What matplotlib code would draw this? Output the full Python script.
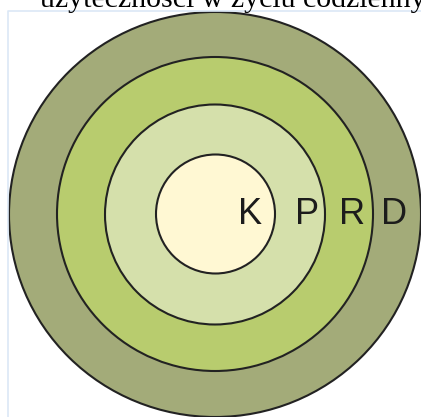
import matplotlib.pyplot as plt
from matplotlib.patches import Ellipse

# Rings from the inside out
labels = ["K", "P", "R", "D"]
radius_x = [59.5, 110, 158, 206]
radius_y = [59.5, 110, 157, 202.5]
center_x = [215.5, 215, 215, 215]
center_y = [214, 214.5, 214, 214.5]
label_x = [250, 307, 352, 394]
colors = ["#fff8d3", "#d5e0ab", "#b8cc6e", "#a3ab79"]

title_text = "użyteczności w życiu codziennym"


def main():
    W, H = 421, 417
    fig = plt.figure(figsize=(W / 100, H / 100), dpi=100)
    ax = fig.add_axes([0, 0, 1, 1])
    ax.set_xlim(0, W)
    ax.set_ylim(H, 0)
    ax.set_aspect("equal")
    ax.axis("off")

    # faint frame of the embedded picture
    ax.plot([8, 8, W], [H, 10.5, 10.5], color="#dbe8f6", lw=1.2)

    # outer rings first so inner ones sit on top
    for i in reversed(range(len(labels))):
        ax.add_patch(Ellipse((center_x[i], center_y[i]), 2 * radius_x[i], 2 * radius_y[i],
                             facecolor=colors[i], edgecolor="#222222", lw=1.5))

    for lab, x in zip(labels, label_x):
        ax.text(x, 214, lab, ha="center", va="center", fontsize=26,
                family="Liberation Sans", color="#1c1c1c")

    # cut-off caption above the picture
    ax.text(40, 7, title_text, ha="left", va="baseline", fontsize=21.5,
            family="Liberation Serif", color="black", clip_on=False)

    fig.savefig("out.png", dpi=100)
    plt.close(fig)


if __name__ == "__main__":
    main()
